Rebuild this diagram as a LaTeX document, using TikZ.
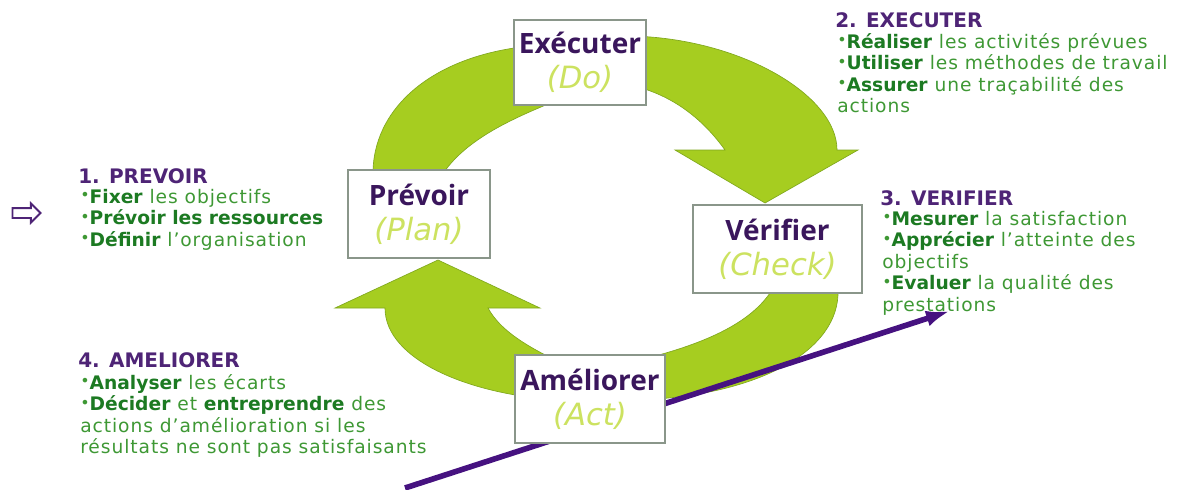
\documentclass[tikz,border=0pt]{standalone}
\usepackage{fontspec}
\setmainfont{DejaVu Sans}
\newfontfamily\boxfont{Open Sans}
\newfontfamily\subfont{DejaVu Sans}
\newfontfamily\notefont{DejaVu Sans}[LetterSpace=5,BoldFeatures={LetterSpace=0}]
\usetikzlibrary{arrows.meta,shapes.arrows}
\definecolor{bandgreen}{RGB}{166,205,32}
\definecolor{bandedge}{RGB}{128,168,30}
\definecolor{titlepurple}{RGB}{58,22,92}
\definecolor{headpurple}{RGB}{78,36,118}
\definecolor{subgreen}{RGB}{204,226,96}
\definecolor{itemgreen}{RGB}{62,152,52}
\definecolor{keygreen}{RGB}{28,122,34}
\definecolor{linepurple}{RGB}{70,18,128}
\definecolor{boxgray}{RGB}{138,150,138}
\newcommand\kw[1]{{\bfseries\color{keygreen}#1}}
\newcommand\dotmark{\raisebox{.25ex}{\scalebox{.85}{•}}}
\newcommand\stagename[2]{{\color{titlepurple}\bfseries #1}\\{\subfont\fontsize{23}{26}\selectfont\color{subgreen}\itshape #2}}
\tikzset{%
  >=latex,
  band/.style={fill=bandgreen,draw=bandedge,line width=0.5pt},%
  stage box/.style={draw=boxgray,fill=white,line width=1pt,align=center,
    inner sep=0pt,font=\boxfont\fontsize{21}{26}\selectfont},%
  note head/.style={anchor=north west,inner sep=0pt,text=headpurple,
    font=\bfseries\fontsize{15}{16}\selectfont},%
  note list/.style={anchor=north west,inner sep=0pt,align=left,text=itemgreen,
    font=\notefont\fontsize{14}{16.1}\selectfont}%
}

\begin{document}
\begin{tikzpicture}[x=0.75pt,y=-0.75pt]
\useasboundingbox (0,0) rectangle (1184,489);

% the four green bands of the cycle
\draw[band] (373,175) .. controls (372,110) and (430,56) .. (530,46) -- (560,46)
  -- (548,104) .. controls (510,120) and (465,140) .. (442,175) -- cycle; %plan to do
\draw[band] (630,36) .. controls (740,38) and (837,95) .. (837,150) -- (858,150)
  -- (765,203) -- (675,150) -- (725,150) .. controls (705,122) and (675,95) .. (630,85) -- cycle; %do to check
\draw[band] (838,290) .. controls (840,350) and (760,395) .. (640,400)
  -- (640,360) .. controls (700,345) and (750,325) .. (772,290) -- cycle; %check to act
\draw[band] (560,400) .. controls (470,395) and (385,360) .. (385,308) -- (335,308)
  -- (438,260) -- (540,308) -- (488,308) .. controls (500,330) and (525,345) .. (555,360) -- cycle; %act to plan

% rising line under the cycle
\coordinate (trend start) at (405,488);
\coordinate (trend end) at (950,311);
\draw[linepurple,line width=4.2pt,-{Latex[length=18pt,width=12pt]}] (trend start) -- (trend end);

\node[stage box,minimum width=99pt,minimum height=63.75pt] (do) at (580,62.5) {\stagename{Exécuter}{(Do)}};
\node[stage box,minimum width=106.5pt,minimum height=66pt] (plan) at (419,214) {\stagename{Prévoir}{(Plan)}};
\node[stage box,minimum width=126.75pt,minimum height=66pt] (check) at (777.5,249) {\stagename{Vérifier}{(Check)}};
\node[stage box,minimum width=112.5pt,minimum height=66pt] (act) at (590,399) {\stagename{Améliorer}{(Act)}};

\node[single arrow,draw=headpurple,line width=1.4pt,minimum height=21pt,
  inner xsep=0pt,inner ysep=3pt,single arrow head extend=3.5pt] (entry) at (24,213) {};

\node[note head] (plan head) at (78,168) {1. PREVOIR};
\node[note list] (plan list) at (80,189) {\dotmark\kw{Fixer} les objectifs\\
  \dotmark\kw{Prévoir les ressources}\\ \dotmark\kw{Définir} l’organisation};

\node[note head] (do head) at (835,12) {2. EXECUTER};
\node[note list] (do list) at (837,33) {\dotmark\kw{Réaliser} les activités prévues\\
  \dotmark\kw{Utiliser} les méthodes de travail\\ \dotmark\kw{Assurer} une traçabilité des\\ actions};

\node[note head] (check head) at (880,190) {3. VERIFIER};
\node[note list] (check list) at (882,211) {\dotmark\kw{Mesurer} la satisfaction\\
  \dotmark\kw{Apprécier} l’atteinte des\\ objectifs\\ \dotmark\kw{Evaluer} la qualité des\\ prestations};

\node[note head] (act head) at (78,352) {4. AMELIORER};
\node[note list] (act list) at (80,374) {\dotmark\kw{Analyser} les écarts\\
  \dotmark\kw{Décider} et \kw{entreprendre} des\\ actions d’amélioration si les\\ résultats ne sont pas satisfaisants};
\end{tikzpicture}
\end{document}
